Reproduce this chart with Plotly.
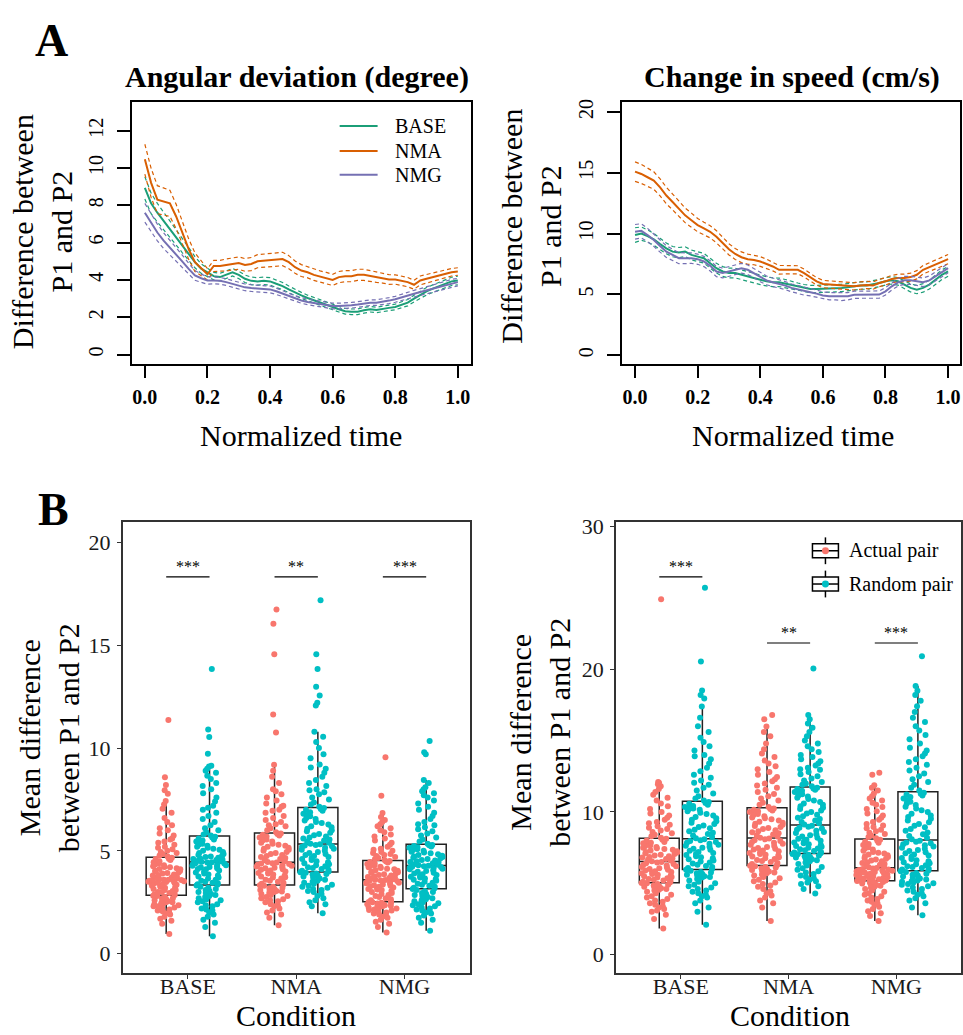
import plotly.graph_objects as go

W, H = 963, 1035
FONT = "Liberation Serif"


def px(x):
    return x / W


def py(y):
    return 1 - y / H


# ---------------- Panel A data ----------------
t = [round(i * 0.02, 2) for i in range(51)]

ang_base = [8.93, 8.1, 7.6, 7.16, 6.7, 6.27, 5.83, 5.39, 4.95, 4.6, 4.41,
            4.2, 4.15, 4.27, 4.41, 4.27, 4.06, 3.95, 3.92, 3.95, 3.92,
            3.79, 3.67, 3.49, 3.31, 3.17, 3.03, 2.9, 2.78, 2.64, 2.55,
            2.43, 2.32, 2.29, 2.29, 2.37, 2.43, 2.39, 2.46, 2.5, 2.55,
            2.68, 2.78, 3.0, 3.2, 3.39, 3.53, 3.67, 3.79, 3.92, 3.97]
ang_base_se = [0.6, 0.55, 0.5, 0.45, 0.42, 0.4, 0.38, 0.35, 0.3, 0.25, 0.22,
               0.2, 0.2, 0.2, 0.2, 0.2, 0.2, 0.2, 0.2, 0.2, 0.2,
               0.2, 0.19, 0.18, 0.17, 0.16, 0.15, 0.15, 0.15, 0.15, 0.15,
               0.15, 0.15, 0.15, 0.15, 0.15, 0.15, 0.15, 0.15, 0.15, 0.15,
               0.16, 0.17, 0.18, 0.19, 0.2, 0.2, 0.21, 0.22, 0.22, 0.23]
ang_nma = [10.47, 9.2, 8.3, 8.2, 8.1, 7.4, 6.5, 5.65, 4.95, 4.6, 4.3,
           4.75, 4.75, 4.8, 4.85, 4.9, 4.8, 4.85, 5.0, 5.03, 5.08,
           5.08, 5.12, 4.95, 4.68, 4.5, 4.41, 4.27, 4.18, 4.1, 4.0,
           4.15, 4.2, 4.2, 4.27, 4.27, 4.2, 4.15, 4.1, 4.02, 4.02,
           3.97, 3.88, 3.74, 3.97, 4.06, 4.15, 4.24, 4.32, 4.41, 4.45]
ang_nma_se = [0.8, 0.78, 0.75, 0.72, 0.7, 0.65, 0.6, 0.55, 0.5, 0.4, 0.3,
              0.3, 0.3, 0.32, 0.32, 0.33, 0.34, 0.35, 0.35, 0.35, 0.36,
              0.36, 0.36, 0.35, 0.33, 0.32, 0.3, 0.3, 0.3, 0.3, 0.3,
              0.3, 0.3, 0.3, 0.3, 0.3, 0.3, 0.28, 0.27, 0.26, 0.25,
              0.25, 0.25, 0.24, 0.24, 0.23, 0.22, 0.22, 0.21, 0.2, 0.2]
ang_nmg = [7.6, 7.07, 6.54, 6.1, 5.74, 5.39, 4.98, 4.59, 4.24, 4.09, 3.97,
           3.97, 3.95, 3.88, 3.79, 3.67, 3.6, 3.56, 3.53, 3.53, 3.49,
           3.39, 3.26, 3.14, 3.0, 2.9, 2.82, 2.76, 2.71, 2.64, 2.6,
           2.6, 2.6, 2.64, 2.68, 2.73, 2.78, 2.78, 2.82, 2.89, 2.96,
           3.07, 3.17, 3.26, 3.35, 3.44, 3.53, 3.65, 3.74, 3.83, 3.88]
ang_nmg_se = [0.5, 0.48, 0.45, 0.42, 0.4, 0.37, 0.34, 0.3, 0.26, 0.22, 0.2,
              0.18, 0.18, 0.18, 0.18, 0.18, 0.18, 0.18, 0.18, 0.18, 0.18,
              0.17, 0.16, 0.15, 0.15, 0.15, 0.15, 0.15, 0.15, 0.15, 0.15,
              0.15, 0.15, 0.15, 0.15, 0.15, 0.15, 0.15, 0.15, 0.16, 0.16,
              0.17, 0.17, 0.18, 0.18, 0.19, 0.19, 0.2, 0.2, 0.2, 0.2]

spd_base = [9.88, 10.0, 9.8, 9.53, 9.15, 8.79, 8.52, 8.44, 8.52, 8.25, 8.11,
            7.98, 7.57, 7.16, 6.89, 6.76, 6.76, 6.62, 6.43, 6.35, 6.21,
            6.08, 6.0, 6.0, 5.89, 5.73, 5.62, 5.51, 5.45, 5.45, 5.45,
            5.45, 5.51, 5.54, 5.62, 5.67, 5.73, 5.73, 5.81, 5.94, 6.08,
            6.16, 6.08, 5.81, 5.54, 5.4, 5.54, 5.81, 6.21, 6.62, 6.89]
spd_base_se = [0.6, 0.55, 0.5, 0.48, 0.46, 0.44, 0.42, 0.42, 0.4, 0.4, 0.4,
               0.4, 0.4, 0.4, 0.4, 0.4, 0.4, 0.4, 0.4, 0.4, 0.4,
               0.38, 0.36, 0.35, 0.34, 0.33, 0.32, 0.31, 0.3, 0.3, 0.3,
               0.3, 0.3, 0.3, 0.3, 0.3, 0.3, 0.3, 0.3, 0.3, 0.3,
               0.3, 0.31, 0.32, 0.33, 0.34, 0.35, 0.36, 0.38, 0.4, 0.4]
spd_nma = [15.09, 14.9, 14.63, 14.36, 13.8, 13.13, 12.6, 12.05, 11.5, 11.1, 10.7,
           10.42, 10.15, 9.74, 9.2, 8.71, 8.33, 8.06, 7.9, 7.84, 7.71,
           7.52, 7.3, 7.03, 7.03, 7.03, 7.03, 6.76, 6.43, 6.08, 5.86,
           5.81, 5.81, 5.73, 5.67, 5.67, 5.73, 5.78, 5.73, 5.94, 6.08,
           6.27, 6.35, 6.35, 6.43, 6.62, 7.03, 7.25, 7.44, 7.71, 7.9]
spd_nma_se = [0.8, 0.78, 0.75, 0.72, 0.7, 0.68, 0.65, 0.62, 0.6, 0.58, 0.55,
              0.52, 0.5, 0.5, 0.48, 0.46, 0.45, 0.44, 0.42, 0.4, 0.4,
              0.38, 0.36, 0.35, 0.35, 0.34, 0.33, 0.32, 0.32, 0.31, 0.3,
              0.3, 0.3, 0.3, 0.3, 0.3, 0.3, 0.3, 0.3, 0.3, 0.3,
              0.3, 0.31, 0.32, 0.33, 0.34, 0.35, 0.36, 0.37, 0.38, 0.38]
spd_nmg = [10.15, 10.23, 9.88, 9.47, 8.98, 8.52, 8.25, 7.98, 7.98, 7.98, 7.9,
           7.71, 7.35, 6.89, 6.76, 6.89, 7.03, 7.16, 7.03, 6.76, 6.43,
           6.16, 6.0, 5.89, 5.73, 5.54, 5.4, 5.26, 5.18, 5.07, 4.91,
           4.86, 4.86, 4.8, 4.86, 4.97, 4.99, 4.99, 4.97, 4.99, 5.26,
           5.67, 6.0, 6.16, 6.16, 6.08, 6.0, 6.16, 6.49, 6.89, 7.16]
spd_nmg_se = [0.6, 0.58, 0.55, 0.52, 0.5, 0.48, 0.46, 0.45, 0.44, 0.43, 0.42,
              0.42, 0.42, 0.42, 0.4, 0.4, 0.4, 0.4, 0.4, 0.38, 0.38,
              0.36, 0.35, 0.34, 0.33, 0.32, 0.32, 0.31, 0.3, 0.3, 0.3,
              0.3, 0.3, 0.3, 0.3, 0.3, 0.3, 0.3, 0.3, 0.3, 0.3,
              0.3, 0.31, 0.32, 0.33, 0.34, 0.35, 0.36, 0.37, 0.38, 0.38]

# ---------------- Panel B data ----------------
categories = ["BASE", "NMA", "NMG"]
pair_labels = ["Actual pair", "Random pair"]

angB_base_actual = [
    0.95, 1.45, 1.6, 1.7, 1.8, 1.9, 1.95, 2.0, 2.05, 2.1, 2.15, 2.2, 2.25, 2.3, 2.3,
    2.35, 2.4, 2.4, 2.45, 2.5, 2.5, 2.55, 2.6, 2.6, 2.65, 2.7, 2.7, 2.75, 2.8, 2.82,
    2.85, 2.88, 2.9, 2.95, 3.0, 3.0, 3.05, 3.1, 3.1, 3.15, 3.2, 3.2, 3.25, 3.3, 3.3,
    3.35, 3.38, 3.4, 3.42, 3.45, 3.48, 3.5, 3.5, 3.52, 3.55, 3.55, 3.58, 3.6, 3.6, 3.6,
    3.62, 3.65, 3.7, 3.72, 3.75, 3.8, 3.82, 3.85, 3.9, 3.92, 3.95, 4.0, 4.02, 4.05, 4.1,
    4.12, 4.15, 4.2, 4.22, 4.25, 4.3, 4.35, 4.4, 4.42, 4.45, 4.5, 4.55, 4.6, 4.62, 4.67,
    4.72, 4.78, 4.85, 4.9, 4.95, 5.0, 5.08, 5.15, 5.2, 5.3, 5.4, 5.45, 5.55, 5.6, 5.75,
    5.85, 6.0, 6.1, 6.25, 6.4, 6.6, 6.85, 7.05, 7.25, 7.43, 7.78, 7.95, 8.2, 8.58, 11.37]
angB_base_random = [
    0.84, 1.3, 1.5, 1.65, 1.8, 1.9, 2.0, 2.1, 2.15, 2.2, 2.3, 2.35, 2.4, 2.5, 2.55,
    2.6, 2.65, 2.7, 2.75, 2.8, 2.85, 2.9, 2.95, 3.0, 3.05, 3.1, 3.15, 3.2, 3.25, 3.32,
    3.35, 3.38, 3.42, 3.45, 3.5, 3.55, 3.6, 3.65, 3.7, 3.75, 3.8, 3.85, 3.9, 3.95, 4.0,
    4.05, 4.1, 4.12, 4.15, 4.2, 4.22, 4.25, 4.28, 4.3, 4.33, 4.36, 4.38, 4.4, 4.43, 4.45,
    4.47, 4.5, 4.52, 4.55, 4.58, 4.6, 4.63, 4.66, 4.7, 4.73, 4.76, 4.8, 4.85, 4.9, 4.95,
    5.0, 5.05, 5.1, 5.15, 5.2, 5.25, 5.3, 5.35, 5.4, 5.45, 5.5, 5.55, 5.6, 5.65, 5.69,
    5.75, 5.8, 5.9, 6.0, 6.1, 6.25, 6.4, 6.55, 6.7, 6.85, 7.0, 7.1, 7.2, 7.4, 7.6,
    7.8, 8.0, 8.15, 8.3, 8.5, 8.65, 8.8, 8.9, 9.0, 9.1, 9.14, 9.73, 10.54, 10.9, 13.85]
angB_nma_actual = [
    1.38, 1.75, 1.9, 2.0, 2.1, 2.2, 2.3, 2.35, 2.4, 2.5, 2.55, 2.6, 2.65, 2.7, 2.75,
    2.8, 2.85, 2.9, 2.95, 3.0, 3.02, 3.05, 3.08, 3.1, 3.14, 3.18, 3.2, 3.25, 3.3, 3.33,
    3.36, 3.4, 3.45, 3.5, 3.55, 3.6, 3.65, 3.7, 3.72, 3.75, 3.8, 3.85, 3.9, 3.92, 3.95,
    4.0, 4.05, 4.08, 4.1, 4.15, 4.18, 4.2, 4.24, 4.27, 4.3, 4.33, 4.36, 4.38, 4.4, 4.43,
    4.46, 4.5, 4.55, 4.6, 4.65, 4.7, 4.75, 4.8, 4.85, 4.9, 4.95, 5.0, 5.05, 5.1, 5.15,
    5.2, 5.25, 5.3, 5.35, 5.4, 5.45, 5.5, 5.55, 5.6, 5.65, 5.7, 5.75, 5.78, 5.82, 5.85,
    5.9, 6.0, 6.1, 6.2, 6.25, 6.3, 6.4, 6.5, 6.6, 6.7, 6.85, 6.95, 7.0, 7.15, 7.2,
    7.3, 7.45, 7.6, 7.75, 7.9, 8.0, 8.3, 8.6, 8.9, 9.19, 10.76, 11.63, 14.57, 16.05, 16.74]
angB_nma_random = [
    1.96, 2.3, 2.4, 2.5, 2.6, 2.7, 2.8, 2.9, 3.0, 3.05, 3.1, 3.15, 3.2, 3.25, 3.3,
    3.35, 3.4, 3.45, 3.5, 3.55, 3.6, 3.65, 3.7, 3.75, 3.8, 3.85, 3.88, 3.9, 3.93, 3.96,
    3.99, 4.03, 4.08, 4.12, 4.16, 4.2, 4.25, 4.3, 4.35, 4.4, 4.45, 4.5, 4.55, 4.6, 4.65,
    4.7, 4.75, 4.8, 4.85, 4.9, 4.95, 5.0, 5.05, 5.1, 5.15, 5.2, 5.23, 5.26, 5.29, 5.32,
    5.35, 5.4, 5.45, 5.5, 5.55, 5.6, 5.65, 5.7, 5.76, 5.82, 5.88, 5.95, 6.0, 6.08, 6.15,
    6.2, 6.28, 6.35, 6.4, 6.48, 6.55, 6.6, 6.68, 6.75, 6.8, 6.88, 6.95, 7.0, 7.04, 7.08,
    7.15, 7.25, 7.35, 7.5, 7.6, 7.75, 7.85, 7.95, 8.0, 8.15, 8.3, 8.45, 8.6, 8.8, 9.0,
    9.05, 9.2, 9.5, 9.7, 10.0, 10.3, 10.55, 10.8, 12.07, 12.2, 12.56, 12.98, 13.85, 14.57, 17.19]
angB_nmg_actual = [
    1.03, 1.3, 1.45, 1.55, 1.65, 1.75, 1.8, 1.85, 1.9, 1.95, 2.0, 2.05, 2.1, 2.12, 2.15,
    2.2, 2.22, 2.25, 2.28, 2.3, 2.32, 2.35, 2.38, 2.4, 2.42, 2.44, 2.46, 2.48, 2.5, 2.51,
    2.55, 2.6, 2.65, 2.7, 2.75, 2.8, 2.85, 2.9, 2.95, 3.0, 3.05, 3.1, 3.12, 3.15, 3.2,
    3.22, 3.25, 3.28, 3.3, 3.33, 3.36, 3.4, 3.42, 3.45, 3.48, 3.5, 3.52, 3.54, 3.56, 3.58,
    3.6, 3.62, 3.65, 3.68, 3.7, 3.73, 3.76, 3.8, 3.83, 3.86, 3.9, 3.93, 3.96, 4.0, 4.03,
    4.06, 4.1, 4.13, 4.16, 4.2, 4.23, 4.26, 4.3, 4.33, 4.36, 4.4, 4.43, 4.46, 4.48, 4.51,
    4.55, 4.6, 4.65, 4.7, 4.75, 4.8, 4.85, 4.9, 4.95, 5.0, 5.05, 5.1, 5.2, 5.3, 5.4,
    5.5, 5.6, 5.7, 5.8, 5.9, 6.0, 6.1, 6.2, 6.3, 6.4, 6.5, 6.65, 6.84, 7.68, 9.56]
angB_nmg_random = [
    1.11, 1.5, 1.65, 1.75, 1.85, 1.95, 2.0, 2.05, 2.1, 2.15, 2.2, 2.25, 2.3, 2.35, 2.4,
    2.45, 2.5, 2.55, 2.6, 2.65, 2.7, 2.75, 2.8, 2.85, 2.9, 2.95, 3.0, 3.05, 3.1, 3.14,
    3.17, 3.2, 3.25, 3.3, 3.35, 3.4, 3.45, 3.5, 3.55, 3.6, 3.63, 3.66, 3.7, 3.74, 3.78,
    3.82, 3.86, 3.9, 3.94, 3.98, 4.02, 4.06, 4.1, 4.13, 4.16, 4.19, 4.21, 4.23, 4.25, 4.27,
    4.3, 4.33, 4.36, 4.4, 4.43, 4.46, 4.5, 4.53, 4.56, 4.6, 4.63, 4.66, 4.7, 4.73, 4.76,
    4.8, 4.84, 4.88, 4.92, 4.96, 5.0, 5.04, 5.08, 5.12, 5.15, 5.18, 5.21, 5.24, 5.27, 5.29,
    5.35, 5.45, 5.55, 5.65, 5.75, 5.85, 5.95, 6.05, 6.15, 6.25, 6.3, 6.4, 6.55, 6.7, 6.85,
    7.0, 7.15, 7.3, 7.45, 7.6, 7.7, 7.8, 7.9, 8.0, 8.1, 8.3, 8.45, 9.7, 9.8, 10.35]

spdB_base_actual = [
    1.83, 2.5, 2.8, 3.0, 3.1, 3.2, 3.3, 3.4, 3.5, 3.6, 3.7, 3.8, 3.9, 4.0, 4.1,
    4.2, 4.3, 4.4, 4.5, 4.55, 4.6, 4.65, 4.7, 4.75, 4.8, 4.85, 4.9, 4.95, 5.0, 5.02,
    5.05, 5.1, 5.15, 5.2, 5.25, 5.3, 5.35, 5.4, 5.45, 5.5, 5.55, 5.6, 5.65, 5.7, 5.75,
    5.8, 5.85, 5.9, 5.95, 6.0, 6.05, 6.1, 6.15, 6.2, 6.25, 6.3, 6.35, 6.4, 6.45, 6.5,
    6.55, 6.6, 6.65, 6.7, 6.75, 6.8, 6.85, 6.9, 6.95, 7.0, 7.05, 7.1, 7.15, 7.2, 7.25,
    7.3, 7.35, 7.4, 7.45, 7.5, 7.55, 7.6, 7.65, 7.7, 7.8, 7.85, 7.9, 8.0, 8.05, 8.12,
    8.2, 8.3, 8.4, 8.5, 8.6, 8.7, 8.8, 8.9, 9.0, 9.1, 9.2, 9.3, 9.45, 9.6, 9.75,
    9.9, 10.0, 10.2, 10.4, 10.6, 10.8, 11.0, 11.2, 11.4, 11.6, 11.8, 11.95, 12.05, 12.1, 24.9]
spdB_base_random = [
    2.09, 3.0, 3.3, 3.6, 3.8, 4.0, 4.1, 4.2, 4.3, 4.4, 4.5, 4.6, 4.7, 4.8, 4.9,
    5.0, 5.1, 5.2, 5.3, 5.4, 5.45, 5.5, 5.55, 5.6, 5.65, 5.7, 5.75, 5.8, 5.88, 5.95,
    6.0, 6.08, 6.15, 6.22, 6.3, 6.38, 6.45, 6.52, 6.6, 6.68, 6.75, 6.82, 6.9, 6.98, 7.05,
    7.12, 7.2, 7.28, 7.35, 7.42, 7.5, 7.57, 7.64, 7.7, 7.77, 7.84, 7.9, 7.96, 8.02, 8.09,
    8.15, 8.25, 8.35, 8.45, 8.55, 8.65, 8.75, 8.85, 8.95, 9.05, 9.15, 9.25, 9.35, 9.45, 9.55,
    9.65, 9.75, 9.85, 9.95, 10.05, 10.15, 10.2, 10.25, 10.3, 10.35, 10.42, 10.5, 10.57, 10.63, 10.69,
    10.8, 10.95, 11.1, 11.3, 11.5, 11.7, 11.9, 12.05, 12.2, 12.4, 12.6, 12.85, 13.1, 13.4, 13.7,
    13.9, 14.0, 14.3, 14.6, 14.9, 15.2, 15.6, 16.0, 16.6, 17.39, 17.95, 18.2, 18.52, 20.54, 25.71]
spdB_nma_actual = [
    2.36, 3.3, 3.6, 3.8, 4.0, 4.15, 4.3, 4.45, 4.6, 4.75, 4.85, 4.95, 5.05, 5.15, 5.25,
    5.35, 5.45, 5.55, 5.62, 5.7, 5.76, 5.82, 5.88, 5.94, 6.0, 6.05, 6.1, 6.15, 6.2, 6.23,
    6.28, 6.35, 6.42, 6.5, 6.57, 6.64, 6.7, 6.76, 6.82, 6.88, 6.94, 7.0, 7.06, 7.12, 7.18,
    7.24, 7.3, 7.36, 7.42, 7.48, 7.55, 7.62, 7.7, 7.77, 7.84, 7.9, 7.96, 8.02, 8.08, 8.14,
    8.2, 8.28, 8.35, 8.42, 8.5, 8.58, 8.65, 8.72, 8.8, 8.88, 8.95, 9.02, 9.1, 9.18, 9.25,
    9.32, 9.4, 9.48, 9.55, 9.62, 9.7, 9.78, 9.85, 9.92, 10.0, 10.05, 10.1, 10.15, 10.2, 10.24,
    10.35, 10.5, 10.65, 10.8, 10.95, 11.1, 11.25, 11.4, 11.55, 11.7, 11.85, 12.0, 12.15, 12.3, 12.45,
    12.6, 12.8, 13.0, 13.2, 13.4, 13.6, 13.85, 14.1, 14.4, 14.8, 15.3, 15.6, 15.99, 16.5, 16.8]
spdB_nma_random = [
    4.29, 4.6, 4.8, 4.95, 5.05, 5.15, 5.25, 5.35, 5.45, 5.55, 5.65, 5.75, 5.85, 5.95, 6.05,
    6.15, 6.25, 6.35, 6.45, 6.55, 6.62, 6.68, 6.74, 6.8, 6.85, 6.9, 6.95, 7.0, 7.03, 7.06,
    7.1, 7.15, 7.2, 7.26, 7.32, 7.38, 7.44, 7.5, 7.56, 7.62, 7.68, 7.74, 7.8, 7.86, 7.92,
    7.98, 8.05, 8.12, 8.2, 8.28, 8.36, 8.44, 8.52, 8.6, 8.68, 8.76, 8.84, 8.9, 8.97, 9.04,
    9.12, 9.2, 9.3, 9.4, 9.5, 9.6, 9.7, 9.8, 9.9, 10.0, 10.1, 10.2, 10.3, 10.4, 10.5,
    10.6, 10.7, 10.8, 10.9, 11.0, 11.08, 11.16, 11.24, 11.32, 11.4, 11.48, 11.55, 11.6, 11.65, 11.7,
    11.8, 11.9, 12.0, 12.1, 12.2, 12.35, 12.5, 12.65, 12.8, 12.95, 13.0, 13.1, 13.25, 13.4, 13.55,
    13.7, 13.85, 14.0, 14.2, 14.4, 14.6, 14.8, 15.0, 15.3, 15.6, 15.9, 16.2, 16.5, 16.8, 20.05]
spdB_nmg_actual = [
    2.36, 2.7, 2.9, 3.05, 3.2, 3.35, 3.5, 3.6, 3.7, 3.8, 3.9, 4.0, 4.1, 4.2, 4.3,
    4.4, 4.5, 4.6, 4.68, 4.75, 4.82, 4.88, 4.93, 4.98, 5.02, 5.06, 5.09, 5.12, 5.14, 5.16,
    5.19, 5.22, 5.25, 5.28, 5.31, 5.34, 5.37, 5.4, 5.43, 5.46, 5.49, 5.52, 5.55, 5.58, 5.61,
    5.64, 5.67, 5.7, 5.73, 5.76, 5.79, 5.82, 5.85, 5.88, 5.91, 5.94, 5.97, 6.0, 6.03, 6.07,
    6.12, 6.18, 6.24, 6.3, 6.36, 6.42, 6.48, 6.54, 6.6, 6.66, 6.72, 6.78, 6.84, 6.9, 6.96,
    7.02, 7.08, 7.14, 7.2, 7.28, 7.36, 7.44, 7.52, 7.6, 7.68, 7.76, 7.84, 7.92, 7.98, 8.05,
    8.15, 8.25, 8.35, 8.45, 8.55, 8.65, 8.75, 8.85, 8.95, 9.05, 9.15, 9.3, 9.45, 9.6, 9.75,
    9.9, 10.05, 10.2, 10.35, 10.5, 10.65, 10.8, 10.95, 11.1, 11.3, 11.5, 11.7, 11.87, 12.6, 12.75]
spdB_nmg_random = [
    2.76, 3.3, 3.6, 3.8, 3.95, 4.1, 4.2, 4.3, 4.4, 4.5, 4.6, 4.7, 4.8, 4.9, 4.95,
    5.0, 5.05, 5.1, 5.15, 5.2, 5.27, 5.34, 5.4, 5.47, 5.54, 5.6, 5.67, 5.73, 5.8, 5.85,
    5.9, 5.96, 6.02, 6.08, 6.14, 6.2, 6.27, 6.34, 6.41, 6.48, 6.55, 6.62, 6.7, 6.78, 6.86,
    6.94, 7.02, 7.1, 7.18, 7.26, 7.34, 7.42, 7.5, 7.58, 7.66, 7.74, 7.8, 7.86, 7.92, 7.98,
    8.08, 8.2, 8.32, 8.44, 8.56, 8.68, 8.8, 8.92, 9.04, 9.16, 9.28, 9.4, 9.52, 9.64, 9.76,
    9.88, 10.0, 10.12, 10.24, 10.36, 10.48, 10.6, 10.72, 10.84, 10.95, 11.05, 11.15, 11.22, 11.28, 11.34,
    11.5, 11.7, 11.9, 12.1, 12.3, 12.5, 12.7, 12.9, 13.1, 13.3, 13.5, 13.7, 13.9, 14.1, 14.3,
    14.5, 14.8, 15.1, 15.4, 15.7, 16.0, 16.3, 16.6, 17.0, 17.4, 17.8, 18.2, 18.5, 18.82, 20.91]

# significance bars (value of bar, label)
angB_sig_y = [18.33, 18.33, 18.33]
spdB_sig_y = [26.47, 21.84, 21.84]
sig_labels = ["***", "**", "***"]

# ---------------- styles ----------------
line_names = ["BASE", "NMA", "NMG"]
line_colors = {"BASE": "#1B9E77", "NMA": "#D95F02", "NMG": "#7570B3"}
pair_colors = ["#F8766D", "#00BFC4"]
pair_offsets = [-0.2, 0.2]

fig = go.Figure()

# ---------- Panel A lines ----------
panelA = [
    ("x", "y", [("BASE", ang_base, ang_base_se), ("NMA", ang_nma, ang_nma_se),
                ("NMG", ang_nmg, ang_nmg_se)]),
    ("x2", "y2", [("BASE", spd_base, spd_base_se), ("NMA", spd_nma, spd_nma_se),
                  ("NMG", spd_nmg, spd_nmg_se)]),
]
for xa, ya, series in panelA:
    for name, mean, se in series:
        col = line_colors[name]
        upper = [m + s for m, s in zip(mean, se)]
        lower = [m - s for m, s in zip(mean, se)]
        for band in (upper, lower):
            fig.add_trace(go.Scatter(x=t, y=band, mode="lines", xaxis=xa, yaxis=ya,
                                     line=dict(color=col, width=1.2, dash="4px,3px"),
                                     showlegend=False, hoverinfo="skip"))
        fig.add_trace(go.Scatter(x=t, y=mean, mode="lines", xaxis=xa, yaxis=ya,
                                 name=name, line=dict(color=col, width=2),
                                 showlegend=False))

# ---------- Panel B boxes ----------
panelB = [
    ("x3", "y3", [[angB_base_actual, angB_base_random],
                  [angB_nma_actual, angB_nma_random],
                  [angB_nmg_actual, angB_nmg_random]]),
    ("x4", "y4", [[spdB_base_actual, spdB_base_random],
                  [spdB_nma_actual, spdB_nma_random],
                  [spdB_nmg_actual, spdB_nmg_random]]),
]
for xa, ya, groups in panelB:
    for ci, pairs in enumerate(groups):
        for pi, vals in enumerate(pairs):
            pos = ci + 1 + pair_offsets[pi]
            fig.add_trace(go.Box(
                x=[pos] * len(vals), y=vals, xaxis=xa, yaxis=ya,
                width=0.37, boxpoints="all", jitter=0.95, pointpos=0,
                marker=dict(size=6, color=pair_colors[pi], line=dict(width=0)),
                line=dict(color="#222222", width=1.5),
                fillcolor="rgba(0,0,0,0)", whiskerwidth=0,
                name=pair_labels[pi], showlegend=False))

# ---------- layout ----------
def axA_x(dom, rng):
    return dict(domain=dom, range=rng, tickvals=[0, 0.2, 0.4, 0.6, 0.8, 1.0],
                tickformat=".1f", ticks="outside", ticklen=12, tickwidth=1.5,
                tickcolor="black", showline=True, mirror=True, linecolor="black",
                linewidth=2, showgrid=False, zeroline=False, ticklabelstandoff=2,
                tickfont=dict(family=FONT, size=20, color="black", weight="bold"))


def axA_y(dom, rng, tv):
    return dict(domain=dom, range=rng, tickvals=tv, tickangle=-90, ticks="outside",
                ticklen=13, tickwidth=1.5, tickcolor="black", showline=True,
                mirror=True, linecolor="black", linewidth=2, showgrid=False,
                zeroline=False, ticklabelstandoff=6,
                tickfont=dict(family=FONT, size=20, color="black"))


def axB_x(dom):
    return dict(domain=dom, range=[0.4, 3.6], tickvals=[1, 2, 3], ticktext=categories,
                ticks="outside", ticklen=4, tickwidth=1, tickcolor="#333333",
                showline=True, mirror=True, linecolor="#333333", linewidth=2,
                showgrid=False, zeroline=False, ticklabelstandoff=-12,
                tickfont=dict(family=FONT, size=22, color="#1a1a1a"))


def axB_y(dom, rng, tv):
    return dict(domain=dom, range=rng, tickvals=tv, ticks="outside", ticklen=4,
                tickwidth=1, tickcolor="#333333", showline=True, mirror=True,
                linecolor="#333333", linewidth=2, showgrid=False, zeroline=False,
                ticklabelstandoff=2,
                tickfont=dict(family=FONT, size=22, color="#1a1a1a"))


yA = [py(359), py(95)]
yB = [py(973), py(518)]

layout = dict(
    width=W, height=H, margin=dict(l=0, r=0, t=0, b=0),
    paper_bgcolor="white", plot_bgcolor="white", boxmode="overlay",
    font=dict(family=FONT, color="black"), showlegend=False,
    xaxis=dict(axA_x([px(132), px(471)], [-0.0415, 1.0405]), anchor="y"),
    yaxis=dict(axA_y(yA, [-0.52, 13.52], [0, 2, 4, 6, 8, 10, 12]), anchor="x"),
    xaxis2=dict(axA_x([px(622.7), px(961)], [-0.0415, 1.038]), anchor="y2"),
    yaxis2=dict(axA_y(yA, [-0.73, 20.79], [0, 5, 10, 15, 20]), anchor="x2"),
    xaxis3=dict(axB_x([px(123), px(470)]), anchor="y3"),
    yaxis3=dict(axB_y(yB, [-0.966, 21.0], [0, 5, 10, 15, 20]), anchor="x3"),
    xaxis4=dict(axB_x([px(616.8), px(962)]), anchor="y4"),
    yaxis4=dict(axB_y(yB, [-1.32, 30.32], [0, 10, 20, 30]), anchor="x4"),
)
fig.update_layout(**layout)

ann = []


def text(s, x, y, size, bold=False, angle=0, xanchor="center", yanchor="middle", color="black"):
    ann.append(dict(text=s, x=px(x), y=py(y), xref="paper", yref="paper",
                    showarrow=False, textangle=angle, xanchor=xanchor, yanchor=yanchor,
                    font=dict(family=FONT, size=size, color=color,
                              weight="bold" if bold else "normal")))


text("A", 52, 33, 46, bold=True)
text("B", 54, 505, 46, bold=True)
text("Angular deviation (degree)", 297.5, 70, 30, bold=True)
text("Change in speed (cm/s)", 793, 70, 30, bold=True)
text("Normalized time", 301, 431, 30)
text("Normalized time", 794, 431, 30)
text("Difference between<br>P1 and P2", 42, 225, 30, angle=-90)
text("Difference between<br>P1 and P2", 532, 220, 30, angle=-90)
text("Mean difference<br>between P1 and P2", 49, 735, 30, angle=-90)
text("Mean difference<br>between P1 and P2", 541, 730, 30, angle=-90)
text("Condition", 296, 1034, 30, yanchor="bottom")
text("Condition", 791, 1034, 30, yanchor="bottom")

shapes = []
# legend for panel A (left)
for name, ly in zip(line_names, [119, 144, 168]):
    shapes.append(dict(type="line", xref="paper", yref="paper", x0=px(340), x1=px(378),
                       y0=py(ly), y1=py(ly), line=dict(color=line_colors[name], width=2)))
    text(name, 393, ly, 20, xanchor="left")

for xa, ya, sig_y in (("x3", "y3", angB_sig_y), ("x4", "y4", spdB_sig_y)):
    for ci, (yv, lab) in enumerate(zip(sig_y, sig_labels)):
        c = ci + 1
        shapes.append(dict(type="line", xref=xa, yref=ya, x0=c + pair_offsets[0],
                           x1=c + pair_offsets[1], y0=yv, y1=yv,
                           line=dict(color="black", width=1.2)))
        ann.append(dict(text=lab, x=c, y=yv, xref=xa, yref=ya, showarrow=False,
                        xanchor="center", yanchor="bottom", yshift=0,
                        font=dict(family=FONT, size=16, color="black")))

# manual legend for panel B (right)
for lab, col, cy in zip(pair_labels, pair_colors, [547, 580.5]):
    x0, x1 = 813.3, 839.3
    xc = (x0 + x1) / 2
    shapes.append(dict(type="line", xref="paper", yref="paper", x0=px(xc), x1=px(xc),
                       y0=py(cy - 13.5), y1=py(cy + 13.5), line=dict(color="black", width=1.5)))
    shapes.append(dict(type="rect", xref="paper", yref="paper", x0=px(x0), x1=px(x1),
                       y0=py(cy - 7), y1=py(cy + 7), fillcolor="white",
                       line=dict(color="black", width=1.5)))
    shapes.append(dict(type="line", xref="paper", yref="paper", x0=px(x0), x1=px(x1),
                       y0=py(cy), y1=py(cy), line=dict(color="black", width=1.5)))
    shapes.append(dict(type="circle", xref="paper", yref="paper", x0=px(xc - 3.5),
                       x1=px(xc + 3.5), y0=py(cy - 3.5), y1=py(cy + 3.5),
                       fillcolor=col, line=dict(width=0)))
    text(lab, 848, cy, 20, xanchor="left")

fig.update_layout(annotations=ann, shapes=shapes)
fig.write_html("out.html", config={"displayModeBar": False},
               post_script="document.body.style.margin='0';document.body.style.overflow='hidden';")
